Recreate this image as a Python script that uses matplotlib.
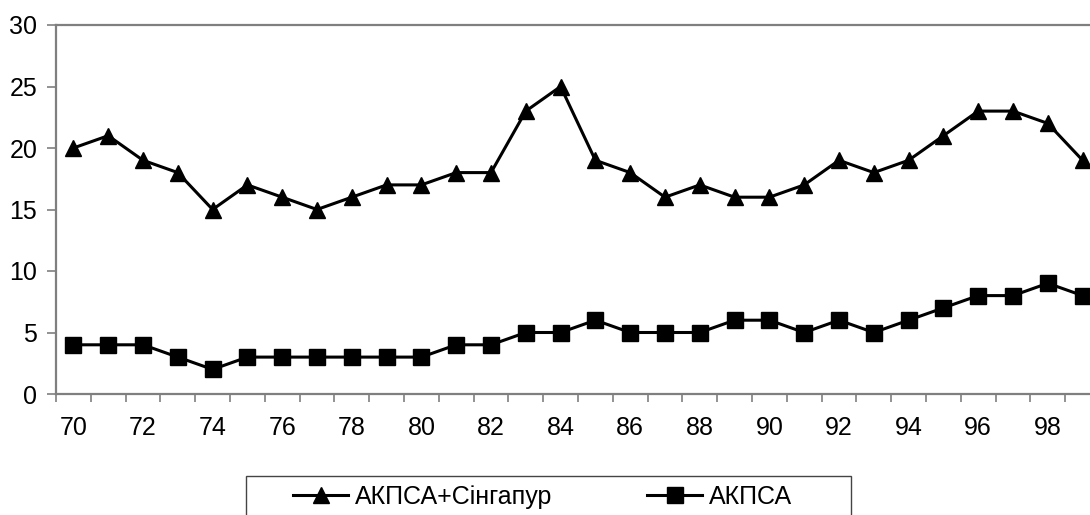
import matplotlib.pyplot as plt
import numpy as np
from matplotlib.patches import Rectangle

plt.rcParams['font.family'] = ['Liberation Sans', 'DejaVu Sans']

years = list(range(70, 100))
singapore = [20, 21, 19, 18, 15, 17, 16, 15, 16, 17, 17, 18, 18, 23, 25,
             19, 18, 16, 17, 16, 16, 17, 19, 18, 19, 21, 23, 23, 22, 19]
akpsa = [4, 4, 4, 3, 2, 3, 3, 3, 3, 3, 3, 4, 4, 5, 5,
         6, 5, 5, 5, 6, 6, 5, 6, 5, 6, 7, 8, 8, 9, 8]
label_years = list(range(70, 100, 2))
y_ticks = [0, 5, 10, 15, 20, 25, 30]

W, H = 1090, 515
fs = 18
fig = plt.figure(figsize=(W / 100, H / 100), dpi=100)
# axes extends past the right edge like in the original scan
left, right, top, bottom = 56, 1100, 25, 394
ax = fig.add_axes([left / W, 1 - bottom / H, (right - left) / W, (bottom - top) / H])

ax.plot(years, singapore, color='black', lw=2.2, marker='^', ms=12, label='АКПСА+Сінгапур', clip_on=False)
ax.plot(years, akpsa, color='black', lw=2.2, marker='s', ms=11, label='АКПСА', clip_on=False)

ax.set_xlim(years[0] - 0.5, years[-1] + 0.5)
ax.set_ylim(0, 30)

spine_col = '#7f7f7f'
for s in ['left', 'top', 'bottom']:
    ax.spines[s].set_color(spine_col)
    ax.spines[s].set_linewidth(1.6)
ax.spines['right'].set_visible(False)

ax.set_yticks(y_ticks)
ax.set_yticklabels([str(v) for v in y_ticks], fontsize=fs)
ax.tick_params(axis='y', length=6.5, width=1.2, color=spine_col, pad=7)

# ticks between categories, labels at category centres
ax.set_xticks(np.arange(years[0] - 0.5, years[-1] + 1, 1))
ax.set_xticklabels([])
ax.tick_params(axis='x', which='major', length=5.5, width=1.2, color=spine_col)
ax.set_xticks(label_years, minor=True)
ax.set_xticklabels([str(v) for v in label_years], minor=True, fontsize=fs)
ax.tick_params(axis='x', which='minor', length=0, pad=16)

# legend box, bottom cut off by the page edge
fig.patches.append(Rectangle((246 / W, -0.1), 605 / W, 0.1 + (1 - 476 / H),
                             transform=fig.transFigure, fill=False,
                             edgecolor='#444444', lw=1.0))
leg = fig.legend(loc='upper left', bbox_to_anchor=(293 / W, 1 - 485 / H),
                 ncol=2, fontsize=18, frameon=False, handlelength=2.2,
                 borderpad=0.0, borderaxespad=0.0, handletextpad=0.28,
                 columnspacing=3.8)

fig.savefig('out.png', dpi=100)
